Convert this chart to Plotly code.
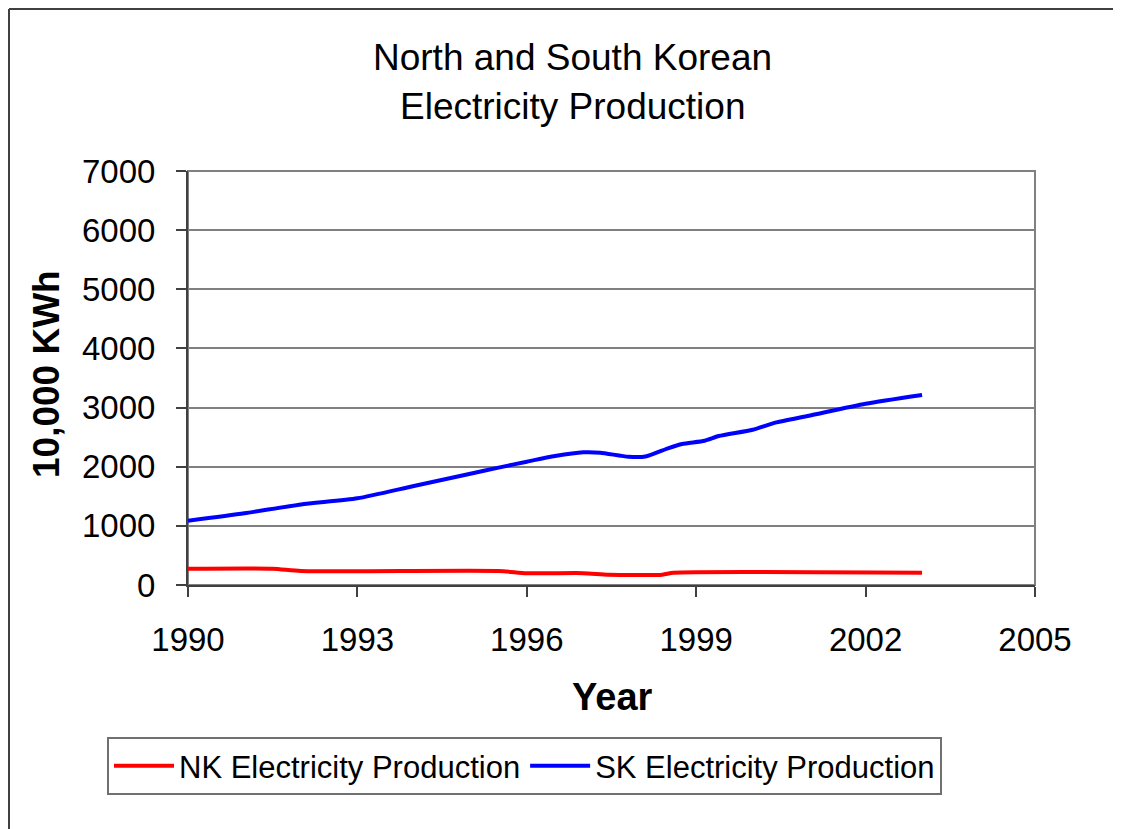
import plotly.graph_objects as go

# Data
nk_years = [1990, 1991.5, 1992, 1995.5, 1996, 1997, 1997.45, 1998.4, 1998.6, 2003]
nk_values = [275, 275, 237, 237, 200, 200, 175, 175, 207, 207]

sk_years = [1990, 1991, 1992, 1993, 1994, 1995, 1995.5, 1996, 1996.5, 1997, 1997.3,
            1997.8, 1998.1, 1998.5, 1998.75, 1999.15, 1999.4, 2000, 2000.4, 2001, 2002, 2003]
sk_values = [1085, 1212, 1362, 1466, 1675, 1880, 1985, 2085, 2180, 2243, 2237,
             2168, 2172, 2311, 2384, 2440, 2519, 2625, 2745, 2863, 3065, 3213]

x_ticks = [1990, 1993, 1996, 1999, 2002, 2005]
y_ticks = [0, 1000, 2000, 3000, 4000, 5000, 6000, 7000]

title_lines = ["North and South Korean", "Electricity Production"]
x_title = "Year"
y_title = "10,000 KWh"

FONT = "Arial, 'Liberation Sans', sans-serif"
AXIS = "#404040"

OFF = 8  # page body margin offset
W, H = 1121 - OFF, 829 - OFF
L, R, T, B = 188 - OFF, 1035 - OFF, 171 - OFF, 585 - OFF

def px(x):
    return (x - OFF - L) / (R - L)

def py(y):
    return (B - (y - OFF)) / (B - T)

fig = go.Figure()
fig.add_trace(go.Scatter(x=nk_years, y=nk_values, mode="lines",
                         name="NK Electricity Production",
                         line=dict(color="#FF0000", width=4, shape="spline", smoothing=0.6)))
fig.add_trace(go.Scatter(x=sk_years, y=sk_values, mode="lines",
                         name="SK Electricity Production",
                         line=dict(color="#0000FF", width=4, shape="spline", smoothing=0.6)))

fig.update_layout(
    width=W, height=H,
    margin=dict(l=L, r=W - R, t=T, b=H - B, autoexpand=False),
    paper_bgcolor="white", plot_bgcolor="white",
    font=dict(family=FONT, color="black", size=32),
    showlegend=True,
    legend=dict(orientation="h", x=px(107), y=py(737), xanchor="left", yanchor="top",
                bordercolor="#707070", borderwidth=2, bgcolor="white",
                font=dict(size=31, family=FONT), itemwidth=60, tracegroupgap=0),
    xaxis=dict(range=[1990, 2005], tickvals=x_ticks, ticktext=[str(v) for v in x_ticks],
               showgrid=False, zeroline=False, showline=True, linecolor=AXIS, linewidth=2,
               ticks="outside", ticklen=10, tickwidth=1.5, tickcolor=AXIS,
               tickfont=dict(size=33, family=FONT), ticklabelstandoff=14),
    yaxis=dict(range=[0, 7000], tickvals=y_ticks, ticktext=[str(v) for v in y_ticks],
               showgrid=True, gridcolor="#808080", gridwidth=1.5, zeroline=False,
               showline=True, linecolor=AXIS, linewidth=2,
               ticks="outside", ticklen=10, tickwidth=1.5, tickcolor=AXIS,
               tickfont=dict(size=33, family=FONT), ticklabelstandoff=14),
    shapes=[
        dict(type="rect", xref="paper", yref="paper", x0=0, x1=1, y0=0, y1=1,
             line=dict(color="#808080", width=2), layer="below"),
        dict(type="line", xref="paper", yref="paper", x0=px(9), x1=px(1125),
             y0=py(9), y1=py(9), line=dict(color=AXIS, width=2)),
        dict(type="line", xref="paper", yref="paper", x0=px(9), x1=px(9),
             y0=py(9), y1=py(835), line=dict(color=AXIS, width=2)),
    ],
    annotations=[
        dict(text=title_lines[0], xref="paper", yref="paper", x=px(572), y=py(57),
             xanchor="center", yanchor="middle", showarrow=False, font=dict(size=37)),
        dict(text=title_lines[1], xref="paper", yref="paper", x=px(572), y=py(107),
             xanchor="center", yanchor="middle", showarrow=False, font=dict(size=37)),
        dict(text="<b>" + x_title + "</b>", xref="paper", yref="paper", x=px(612), y=py(697),
             xanchor="center", yanchor="middle", showarrow=False, font=dict(size=38)),
        dict(text="<b>" + y_title + "</b>", xref="paper", yref="paper", x=px(46), y=py(374),
             xanchor="center", yanchor="middle", showarrow=False, textangle=-90,
             font=dict(size=37)),
    ],
)

fig.write_html("out.html")
